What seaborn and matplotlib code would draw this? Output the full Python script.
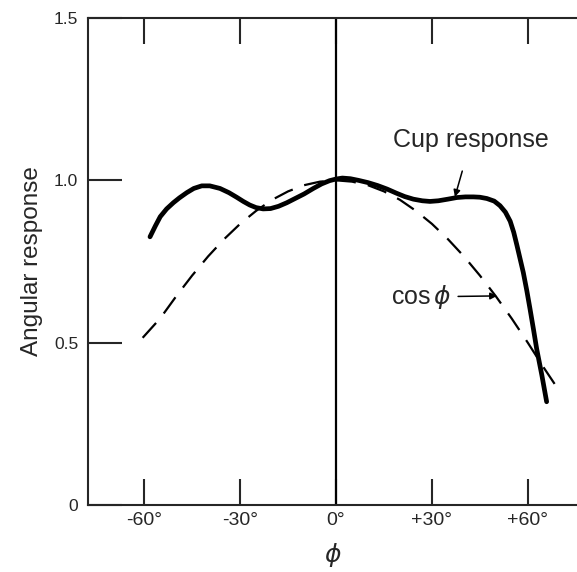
import numpy as np
import pandas as pd
import matplotlib
matplotlib.use('Agg')
import matplotlib.pyplot as plt
import seaborn as sns

# Naměřená odezva (plná čára)
cup_phi = [-58.2, -56.5, -55, -53, -50.9, -49, -46.7, -44.5, -42, -39.5, -36.3, -33.5,
           -31.1, -29, -27, -25, -22.8, -20.5, -18, -15.4, -13, -10, -7.1, -4.5, -2, 0,
           2, 4.5, 7, 10, 13, 16, 19, 21.5, 24.2, 27, 29.4, 32, 35, 37.8, 40.5, 43, 45,
           47.2, 49.5, 51.3, 53, 54.5, 55.6, 56.6, 57.6, 58.6, 59.7, 60.7, 61.8, 62.8,
           64.4, 65.9]
cup_val = [0.826, 0.86, 0.888, 0.912, 0.931, 0.946, 0.962, 0.975, 0.983, 0.983, 0.975, 0.962,
           0.948, 0.935, 0.924, 0.916, 0.912, 0.913, 0.92, 0.931, 0.943, 0.958, 0.975, 0.989,
           0.999, 1.004, 1.007, 1.005, 1.0, 0.993, 0.984, 0.973, 0.96, 0.95, 0.942, 0.937,
           0.935, 0.937, 0.942, 0.947, 0.949, 0.949, 0.948, 0.944, 0.936, 0.922, 0.902,
           0.874, 0.84, 0.8, 0.758, 0.716, 0.66, 0.604, 0.54, 0.48, 0.4, 0.318]

# cos phi (čárkovaná čára)
cos_phi = [-60.5, -55, -50, -45, -40, -35, -30, -25, -20, -15, -10, -5, 0, 5, 10, 15, 20,
           25, 30, 35, 40, 45, 50, 55, 60, 65, 70.3]
cos_val = [0.515, 0.575, 0.643, 0.707, 0.766, 0.819, 0.866, 0.906, 0.94, 0.966, 0.985, 0.996,
           1.0, 0.996, 0.985, 0.966, 0.94, 0.906, 0.866, 0.819, 0.766, 0.707, 0.643, 0.574,
           0.5, 0.423, 0.345]

x_ticks = [-60, -30, 0, 30, 60]
x_labels = ['-60°', '-30°', '0°', '+30°', '+60°']
y_ticks = [0, 0.5, 1.0, 1.5]
y_labels = ['0', '0.5', '1.0', '1.5']

sns.set_style('ticks')
plt.rcParams['font.family'] = ['Liberation Sans', 'DejaVu Sans']

cup = pd.DataFrame({'phi': cup_phi, 'val': cup_val})
cosd = pd.DataFrame({'phi': cos_phi, 'val': cos_val})

fig = plt.figure(figsize=(5.77, 5.72), dpi=100)
ax = fig.add_axes([88 / 577, 1 - 505 / 572, 1 - 88 / 577, (505 - 18) / 572])

sns.lineplot(data=cosd, x='phi', y='val', ax=ax, color='black', lw=1.6,
             linestyle=(0, (9, 5.5)))
sns.lineplot(data=cup, x='phi', y='val', ax=ax, color='black', lw=3.4,
             solid_joinstyle='round', solid_capstyle='round')
ax.axvline(0, color='black', lw=1.6)

ax.set_xlim(-77.6, 75.4)
ax.set_ylim(0, 1.5)
ax.set_xticks(x_ticks, x_labels)
ax.set_yticks(y_ticks, y_labels)

for side in ['left', 'top', 'bottom']:
    ax.spines[side].set_linewidth(1.5)
ax.spines['right'].set_visible(False)

ax.tick_params(axis='x', direction='in', length=19, width=1.5, top=True, labeltop=False,
               labelsize=14, pad=5)
ax.tick_params(axis='y', direction='in', length=24.5, width=1.5, right=False,
               labelsize=12.5, pad=7)

ax.set_xlabel(r'$\phi$', fontsize=18, labelpad=9)
ax.set_ylabel('Angular response', fontsize=17.5, labelpad=8)

ax.annotate('Cup response', xy=(37.2, 0.949), xytext=(42.3, 1.125),
            ha='center', va='center', fontsize=18,
            arrowprops=dict(arrowstyle='-|>', color='black', lw=1.1,
                            mutation_scale=10, shrinkA=12, shrinkB=0))
ax.annotate(r'cos$\,\phi$', xy=(50.4, 0.644), xytext=(36.3, 0.641),
            ha='right', va='center', fontsize=18,
            arrowprops=dict(arrowstyle='-|>', color='black', lw=1.1,
                            mutation_scale=10, shrinkA=2, shrinkB=0))

fig.savefig('out.png', dpi=100)
